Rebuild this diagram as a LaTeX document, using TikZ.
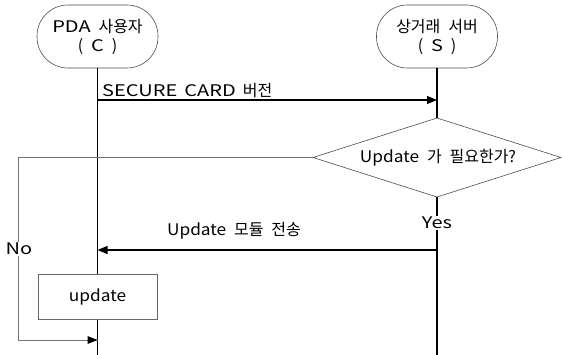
\documentclass[tikz,border=0pt]{standalone}
\usepackage{fontspec}
\setmainfont[WordSpace=2.2]{Noto Sans CJK KR}
\newfontfamily\latw[FakeStretch=1.08,WordSpace=2.2]{Noto Sans CJK KR}
\newfontfamily\capw[FakeStretch=1.25,WordSpace=1.6]{Noto Sans CJK KR}
\usetikzlibrary{arrows.meta}
\tikzset{
  actor/.style={draw=black!70, line width=0.6pt, fill=white, rectangle, rounded corners=31pt,
    minimum width=121pt, minimum height=63pt, align=center, inner sep=0pt},
  procbox/.style={draw=black!60, line width=0.6pt, fill=white, rectangle,
    minimum width=119pt, minimum height=45pt, inner sep=0pt},
  lifeline/.style={line width=1.4pt, black},
  msg/.style={line width=1.2pt, black, -{Triangle[length=10pt,width=8pt]}},
  noline/.style={line width=0.6pt, black!55},
  thinshape/.style={line width=0.6pt, black!70},
  lbl/.style={inner sep=1pt, fill=white},
}
\begin{document}
\begin{tikzpicture}[x=1pt,y=-1pt,font=\fontsize{16}{19}\selectfont]
\useasboundingbox (0,0) rectangle (562,355);
% actors
\node[actor] (C) at (97.5,36.5) {{\capw PDA} 사용자\\( {\capw C} )};
\node[actor] (S) at (437,36.5) {상거래 서버\\( {\capw S} )};
% decision diamond
\coordinate (Dt) at (437,118);
\coordinate (Db) at (437,197);
\coordinate (Dl) at (313,157.5);
\coordinate (Dr) at (561,157.5);
\node (D) at (438,157.5) {{\latw Update} 가 필요한가?};
% bottoms
\coordinate (Cb) at (97.5,355);
\coordinate (Sb) at (437,355);
% message points
\coordinate (m1a) at (97.5,100);
\coordinate (m1b) at (437,100);
\coordinate (m2a) at (437,250);
\coordinate (m2b) at (97.5,250);
% no path
\coordinate (n1) at (18,157.5);
\coordinate (n2) at (18,340);
\coordinate (n3) at (97.5,340);
% lifelines
\draw[lifeline] (C.south) -- (Cb);
\draw[lifeline] (S.south) -- (Dt);
\node[lbl] (Yes) at (437,223) {\capw Yes};
\draw[lifeline] (Db) -- (Yes.north);
\draw[lifeline] (Yes.south) -- (Sb);
% diamond outline
\draw[thinshape] (Dt) -- (Dr) -- (Db) -- (Dl) -- cycle;
% no branch
\draw[noline] (Dl) -- (n1) -- (n2) -- (n3);
\fill[black] (n3) -- ++(-10,-4) -- ++(0,8) -- cycle;
\node[lbl] (No) at (19,249) {\capw No};
% messages
\draw[msg] (m1a) -- (m1b);
\node[anchor=base west, inner sep=0pt] (L1) at (102,97) {{\capw SECURE CARD }버전};
\draw[msg] (m2a) -- (m2b);
\node[anchor=base, inner sep=0pt] (L2) at (234,236) {{\latw Update} 모듈 전송};
% update box
\node[procbox] (U) at (97.5,296.5) {\latw update};
\end{tikzpicture}
\end{document}
